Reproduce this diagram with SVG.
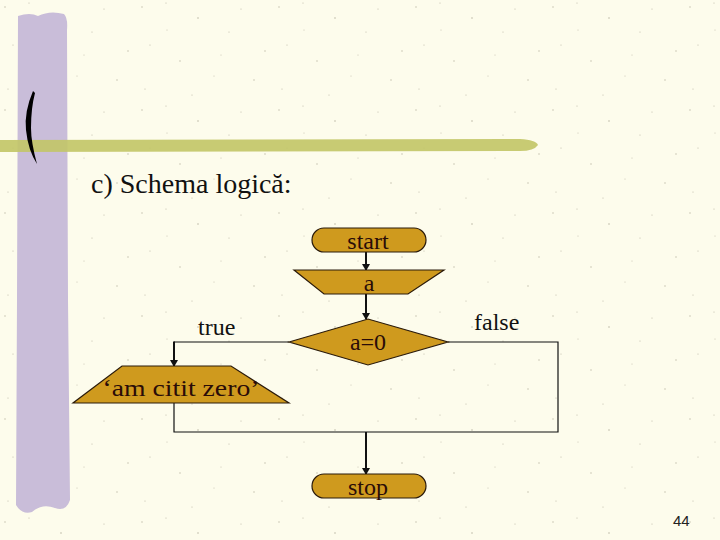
<svg xmlns="http://www.w3.org/2000/svg" width="720" height="540" viewBox="0 0 720 540">
<style>
.shape{fill:#CF9A1E;stroke:#2a1a0a;stroke-width:1.2}
.t{font-family:"Liberation Serif","Times New Roman",serif;font-size:24px;fill:#2a0c08;text-anchor:middle}
.lbl{font-family:"Liberation Serif","Times New Roman",serif;font-size:24px;fill:#111}
.line{fill:none;stroke:#111;stroke-width:1.2}
.arrow{fill:none;stroke:#111;stroke-width:2;marker-end:url(#ah)}
.sp{fill:#bfbaa8}
</style>
<defs>
<marker id="ah" markerWidth="8" markerHeight="8" refX="6" refY="4" orient="auto" markerUnits="userSpaceOnUse">
<path d="M0,0 L7,4 L0,8 z" fill="#111"/>
</marker>
<pattern id="speck" width="137" height="103" patternUnits="userSpaceOnUse">
<rect width="137" height="103" fill="#FDFCEC"/>
<circle class="sp" cx="5" cy="7" r="0.7"/>
<circle class="sp" cx="29" cy="3" r="0.6"/>
<circle class="sp" cx="61" cy="18" r="0.8"/>
<circle class="sp" cx="13" cy="45" r="0.6"/>
<circle class="sp" cx="43" cy="61" r="0.7"/>
<circle class="sp" cx="92" cy="32" r="0.6"/>
<circle class="sp" cx="117" cy="80" r="0.7"/>
<circle class="sp" cx="8" cy="89" r="0.6"/>
<circle class="sp" cx="77" cy="76" r="0.5"/>
<circle class="sp" cx="104" cy="9" r="0.6"/>
<circle class="sp" cx="128" cy="51" r="0.7"/>
<circle class="sp" cx="55" cy="95" r="0.6"/>
<circle class="sp" cx="84" cy="55" r="0.5"/>
<circle class="sp" cx="30" cy="30" r="0.5"/>
</pattern>
</defs>
<rect width="720" height="540" fill="url(#speck)"/>
<g id="decor">
<path d="M18,16 Q30,12 38,16 Q50,10 64,14 Q68,18 67,30 L68,300 L70,500 Q66,512 55,508 Q42,503 32,512 Q22,515 16,505 L17,300 Z" fill="#C9BDD9"/>
<path d="M0,140 L520,139 Q536,140 538,145 Q534,151 520,151 L0,152 Z" fill="#C2C566" opacity="0.9"/>
<path d="M33,91 Q24,112 26,130 Q28,150 37,164 Q31,142 31,128 Q31,108 35,93 Z" fill="#000"/>
</g>
<text x="91" y="193" font-family="'Liberation Serif','Times New Roman',serif" font-size="28" fill="#111">c) Schema logică:</text>
<g id="connectors">
<line class="arrow" x1="366" y1="252" x2="366" y2="270"/>
<line class="arrow" x1="366" y1="294" x2="366" y2="319"/>
<path class="line" d="M289,342 L174,342"/>
<line class="arrow" x1="174" y1="341.4" x2="174" y2="366"/>
<path class="line" d="M448,342 L558,342 L558,432 L174,432 L174,403"/>
<line class="arrow" x1="366" y1="432" x2="366" y2="474"/>
</g>
<g id="start">
<rect class="shape" x="312" y="228" width="114" height="24" rx="12"/>
<text class="t" x="368" y="249">start</text>
</g>
<g id="input-a">
<polygon class="shape" points="294,270 444,270 408,294 324,294"/>
<text class="t" x="369" y="291">a</text>
</g>
<g id="decision">
<polygon class="shape" points="289,342 368,319 448,342 368,365"/>
<text class="t" x="368" y="350">a=0</text>
</g>
<g id="output">
<polygon class="shape" points="122,366 231,366 289,403 73,403"/>
<text class="t" x="181" y="396" textLength="157" lengthAdjust="spacingAndGlyphs">‘am citit zero’</text>
</g>
<g id="stop">
<rect class="shape" x="312" y="474" width="114" height="24" rx="12"/>
<text class="t" x="368" y="495">stop</text>
</g>
<text class="lbl" x="198" y="335">true</text>
<text class="lbl" x="474" y="330">false</text>
<text x="673" y="526" font-family="'Liberation Sans',Arial,sans-serif" font-size="15" fill="#222">44</text>
</svg>
